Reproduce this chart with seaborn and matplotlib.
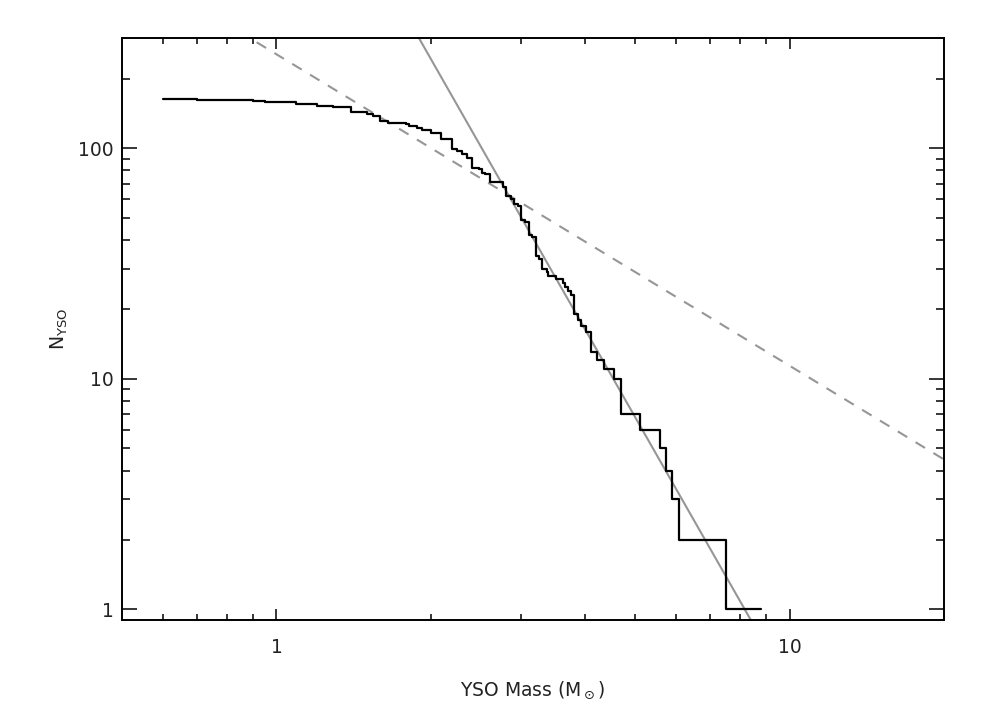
import numpy as np
import pandas as pd
import matplotlib
matplotlib.use("Agg")
import matplotlib.pyplot as plt
import matplotlib.ticker as mticker
import seaborn as sns

# ---- data ----
# cumulative YSO count N(>=M): step positions (mass) and count after each step
step_mass = [0.60, 0.70, 0.85, 0.90, 0.95, 1.02, 1.09, 1.20, 1.29, 1.40,
             1.50, 1.54, 1.59, 1.65, 1.79, 1.81, 1.88, 1.92, 2.00, 2.09,
             2.20, 2.25, 2.30, 2.35, 2.40, 2.48, 2.51, 2.55, 2.605, 2.77,
             2.80, 2.86, 2.91, 2.95, 3.00, 3.05, 3.10, 3.15, 3.20, 3.25,
             3.30, 3.36, 3.39, 3.51, 3.62, 3.65, 3.70, 3.75, 3.80, 3.87,
             3.93, 4.02, 4.10, 4.21, 4.35, 4.55, 4.70, 5.10, 5.60, 5.75,
             5.89, 6.09, 7.51, 8.78]
step_count = [163, 162, 161, 160, 159, 158, 156, 152, 150, 143,
              140, 138, 131, 129, 127, 125, 122, 120, 116, 110,
              99, 97, 94, 91, 82, 81, 78, 77, 71, 68,
              62, 60, 57, 56, 49, 48, 42, 41, 34, 33,
              30, 29, 28, 27, 26, 25, 24, 23, 19, 18,
              17, 16, 13, 12, 11, 10, 7, 6, 5, 4,
              3, 2, 1, 1]

# power-law fits (N = norm * M^slope)
steep_slope, steep_norm = -3.9, 3630.0
salp_slope, salp_norm = -1.35, 255.0

x_ticks = [1, 10]
x_minor = [0.6, 0.7, 0.8, 0.9, 2, 3, 4, 5, 6, 7, 8, 9]
y_ticks = [1, 10, 100]
y_minor = [2, 3, 4, 5, 6, 7, 8, 9, 20, 30, 40, 50, 60, 70, 80, 90, 200]

x_label = r"YSO Mass (M$_\odot$)"
y_label = r"N$_{\rm YSO}$"

# ---- plotting ----
sns.set_theme(style="ticks")
plt.rcParams["font.family"] = ["DejaVu Sans"]
plt.rcParams["mathtext.fontset"] = "dejavusans"

fig = plt.figure(figsize=(9.81, 7.01), dpi=100)
ax = fig.add_axes([122 / 981, 1 - 620 / 701, (944 - 122) / 981, (620 - 38) / 701])

ax.set_xscale("log")
ax.set_yscale("log")
ax.set_xlim(0.5, 20)
ax.set_ylim(0.9, 300)

fit_m = np.array([0.5, 20.0])
fits = pd.DataFrame({
    "m": np.concatenate([fit_m, fit_m]),
    "n": np.concatenate([steep_norm * fit_m ** steep_slope, salp_norm * fit_m ** salp_slope]),
    "fit": ["steep"] * 2 + ["salpeter"] * 2,
})
gray = "#969696"
sns.lineplot(data=fits[fits.fit == "steep"], x="m", y="n", ax=ax, color=gray,
             lw=1.5, estimator=None, sort=False)
sns.lineplot(data=fits[fits.fit == "salpeter"], x="m", y="n", ax=ax, color=gray,
             lw=1.5, estimator=None, sort=False, dashes=False)
ax.lines[-1].set_dashes([5.3, 4.7])

steps = pd.DataFrame({"m": step_mass, "n": step_count})
sns.lineplot(data=steps, x="m", y="n", ax=ax, color="black", lw=1.6,
             drawstyle="steps-post", estimator=None, sort=False)

ax.xaxis.set_major_locator(mticker.FixedLocator(x_ticks))
ax.xaxis.set_minor_locator(mticker.FixedLocator(x_minor))
ax.yaxis.set_major_locator(mticker.FixedLocator(y_ticks))
ax.yaxis.set_minor_locator(mticker.FixedLocator(y_minor))
ax.xaxis.set_major_formatter(mticker.FixedFormatter([str(t) for t in x_ticks]))
ax.yaxis.set_major_formatter(mticker.FixedFormatter([str(t) for t in y_ticks]))
ax.xaxis.set_minor_formatter(mticker.NullFormatter())
ax.yaxis.set_minor_formatter(mticker.NullFormatter())

ax.tick_params(which="both", direction="in", top=True, right=True, color="black",
               labelcolor="#222222", labelsize=13.5, width=1.1)
ax.tick_params(axis="x", which="major", length=8, pad=13)
ax.tick_params(axis="x", which="minor", length=4)
ax.tick_params(axis="y", which="major", length=11, pad=6)
ax.tick_params(axis="y", which="minor", length=5.8)

for s in ax.spines.values():
    s.set_visible(True)
    s.set_color("black")
    s.set_linewidth(1.4)

ax.set_xlabel(x_label, fontsize=13.5, color="#222222", labelpad=16)
ax.set_ylabel(y_label, fontsize=13.5, color="#222222", labelpad=6)
ax.grid(False)
ax.set_facecolor("white")
fig.patch.set_facecolor("white")

fig.savefig("out.png", dpi=100)
